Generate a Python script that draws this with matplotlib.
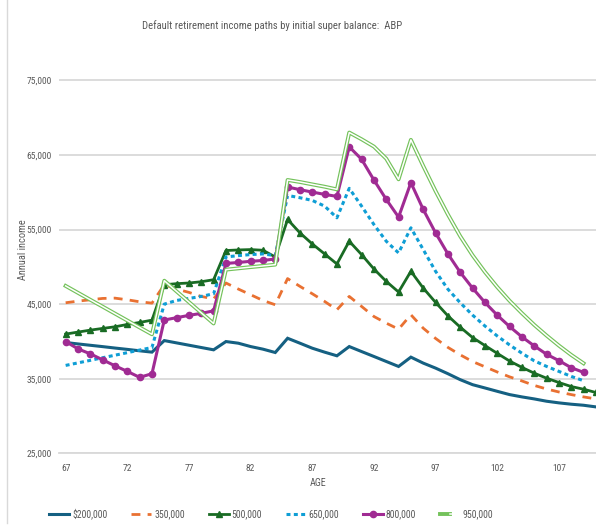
import matplotlib
matplotlib.use("Agg")
import matplotlib.pyplot as plt
from matplotlib.lines import Line2D
from matplotlib.legend_handler import HandlerTuple

plt.rcParams['font.family'] = ['Roboto Condensed', 'DejaVu Sans']

# income paths by starting balance, age 67 onwards
ages = list(range(67, 111))

inc_200k = [39850, 39660, 39480, 39300, 39110, 38930, 38740, 38560,
            40110, 39800, 39490, 39180, 38870, 39980, 39760, 39310,
            38960, 38510, 40420, 39760, 39090, 38560, 38070, 39310,
            38640, 37980, 37310, 36640, 37890, 37090, 36420, 35670,
            34870, 34200, 33760, 33310, 32870, 32560, 32290, 31980,
            31760, 31580, 31440, 31220]
inc_350k = [45180, 45400, 45580, 45760, 45800, 45580, 45310, 45130,
            47600, 47020, 46570, 46030, 45700, 47830, 47020, 46260,
            45490, 44910, 48420, 47380, 46390, 45360, 44240, 46030,
            44690, 43340, 42450, 41640, 43570, 41770, 40400, 39200,
            38200, 37300, 36600, 35900, 35250, 34700, 34100, 33620,
            33220, 32870, 32560, 32290]
inc_500k = [40980, 41250, 41510, 41740, 41960, 42270, 42540, 42850,
            47600, 47740, 47830, 48000, 48270, 52180, 52260, 52310,
            52220, 51320, 56350, 54550, 53070, 51730, 50380, 53430,
            51640, 49710, 48050, 46620, 49400, 47150, 45230, 43430,
            41910, 40520, 39450, 38400, 37370, 36520, 35740, 35070,
            34490, 33950, 33590, 33150]
inc_650k = [36780, 37120, 37460, 37810, 38150, 38490, 38840, 39180,
            45000, 45490, 45760, 46030, 46390, 51320, 51500, 51640,
            51730, 51500, 59570, 59260, 58900, 58140, 56570, 60520,
            58140, 55670, 53430, 51860, 55230, 52310, 49400, 47000,
            45180, 43530, 42070, 40730, 39530, 38420, 37400, 36650,
            35980, 35310, 34730]
inc_800k = [39980, 39000, 38330, 37530, 36730, 35980, 35180, 35670,
            42870, 43180, 43490, 43760, 44100, 50450, 50580, 50740,
            50850, 51050, 60700, 60340, 60020, 59710, 59440, 66080,
            64420, 61640, 59040, 56660, 61280, 57690, 54550, 51730,
            49260, 47150, 45230, 43520, 42000, 40610, 39400, 38280,
            37420, 36480, 35850]
inc_950k = [47440, 46510, 45580, 44660, 43730, 42800, 41870, 40950,
            48140, 46700, 45270, 43830, 42400, 49620, 49790, 49960,
            50120, 50290, 61640, 61370, 61050, 60740, 60380, 68000,
            67100, 66120, 64500, 61730, 67020, 63520, 60160, 57020,
            54100, 51550, 49310, 47290, 45450, 43790, 42220, 40790,
            39440, 38190, 37060]

labels = ['$200,000', '350,000', '500,000', '650,000', '800,000', '950,000']
grey = '#595959'

fig = plt.figure(figsize=(5.96, 5.28), dpi=100)
ax = fig.add_axes([0.0998, 0.1415, 0.9103, 0.777])

h1, = ax.plot(ages[:len(inc_200k)], inc_200k, color='#156082', lw=2.2,
              solid_joinstyle='miter')
h2, = ax.plot(ages[:len(inc_350k)], inc_350k, color='#E97132', lw=2.0,
              linestyle=(0, (3.2, 2.6)), dash_capstyle='butt')
h3, = ax.plot(ages[:len(inc_500k)], inc_500k, color='#196B24', lw=2.0,
              marker='^', markersize=4.5)
h4, = ax.plot(ages[:len(inc_650k)], inc_650k, color='#0F9ED5', lw=2.2,
              linestyle=(0, (1.3, 1.1)), dash_capstyle='butt')
h5, = ax.plot(ages[:len(inc_800k)], inc_800k, color='#A02B93', lw=2.2,
              marker='o', markersize=4.5)
# double line: green stroke with a white core
h6a, = ax.plot(ages[:len(inc_950k)], inc_950k, color='#74C25B', lw=2.8)
h6b, = ax.plot(ages[:len(inc_950k)], inc_950k, color='white', lw=1.1)

ax.set_xlim(66.5, 110.5)
ax.set_ylim(25000, 80000)
ax.set_xticks(list(range(67, 111, 5)))
ax.set_yticks(list(range(25000, 80000, 10000)))
ax.set_yticklabels([f'{v:,}' for v in range(25000, 80000, 10000)])
ax.tick_params(length=0, labelsize=6.8, colors=grey)
ax.tick_params(axis='x', pad=8)
ax.tick_params(axis='y', pad=5.5)
ax.grid(axis='y', color='#D9D9D9', lw=1.3)
ax.set_axisbelow(True)
for s in ['top', 'right', 'left']:
    ax.spines[s].set_visible(False)
ax.spines['bottom'].set_color('#D9D9D9')
ax.spines['bottom'].set_linewidth(1.3)

fig.text(0.456, 0.952, 'Default retirement income paths by initial super balance:  ABP',
         ha='center', va='center', fontsize=7.7, color=grey)
fig.text(0.038, 0.527, 'Annual income', rotation=90, ha='center', va='center',
         fontsize=7.5, color=grey)
fig.text(0.534, 0.085, 'AGE', ha='center', va='center', fontsize=7.2, color=grey)

# light frame edge on the left
fig.add_artist(Line2D([0.012, 0.012], [0.01, 1.0], color='#D9D9D9', lw=1.0))

leg = fig.legend([h1, h2, h3, h4, h5, (h6a, h6b)], labels,
                 handler_map={tuple: HandlerTuple(ndivide=None, pad=0)},
                 loc='center', bbox_to_anchor=(0.4555, 0.0265), ncol=6,
                 frameon=False, fontsize=7, handlelength=2.05,
                 handletextpad=0.3, columnspacing=2.45)
for t in leg.get_texts():
    t.set_color(grey)

fig.savefig('out.png', dpi=100)
